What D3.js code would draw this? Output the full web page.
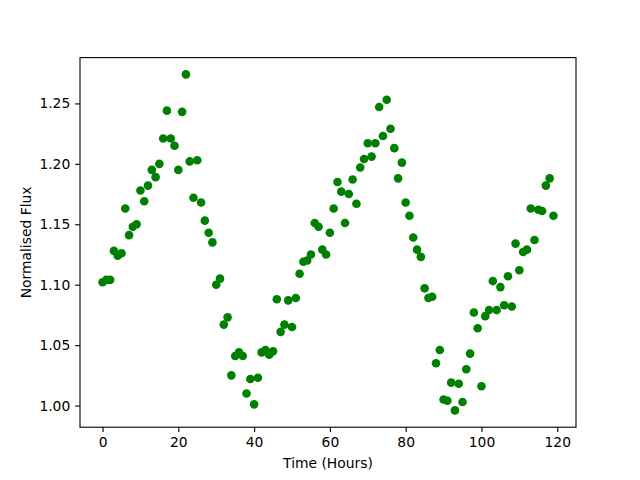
<!DOCTYPE html>
<html>
<head>
<meta charset="utf-8">
<script src="https://cdn.jsdelivr.net/npm/d3@7"></script>
<style>
  body { margin: 0; background: #fff; }
  text { font-family: "DejaVu Sans", sans-serif; }
</style>
</head>
<body>
<div id="chart"></div>
<script>
// observation times (hours)
const hours = [
  0, 1, 2, 3, 4, 5, 6, 7, 8, 9, 10, 11, 12, 13, 14, 15, 16, 17, 18, 19,
  20, 21, 22, 23, 24, 25, 26, 27, 28, 29, 30, 31, 32, 33, 34, 35, 36, 37, 38, 39,
  40, 41, 42, 43, 44, 45, 46, 47, 48, 49, 50, 51, 52, 53, 54, 55, 56, 57, 58, 59,
  60, 61, 62, 63, 64, 65, 66, 67, 68, 69, 70, 71, 72, 73, 74, 75, 76, 77, 78, 79,
  80, 81, 82, 83, 84, 85, 86, 87, 88, 89, 90, 91, 92, 93, 94, 95, 96, 97, 98, 99,
  100, 101, 102, 103, 104, 105, 106, 107, 108, 109, 110, 111, 112, 113, 114, 115, 116, 117, 118, 119
];

// normalised flux
const flux = [
  1.102, 1.104, 1.104, 1.128, 1.124, 1.126, 1.163, 1.141, 1.148, 1.150,
  1.178, 1.169, 1.182, 1.195, 1.189, 1.200, 1.221, 1.244, 1.221, 1.215,
  1.195, 1.243, 1.274, 1.202, 1.172, 1.203, 1.168, 1.153, 1.143, 1.135,
  1.100, 1.105, 1.067, 1.073, 1.025, 1.041, 1.044, 1.041, 1.010, 1.022,
  1.001, 1.023, 1.044, 1.046, 1.042, 1.045, 1.088, 1.061, 1.067, 1.087,
  1.065, 1.089, 1.109, 1.119, 1.120, 1.125, 1.151, 1.148, 1.129, 1.125,
  1.143, 1.163, 1.185, 1.177, 1.151, 1.175, 1.187, 1.167, 1.197, 1.204,
  1.217, 1.206, 1.217, 1.247, 1.223, 1.253, 1.229, 1.213, 1.188, 1.201,
  1.168, 1.157, 1.139, 1.129, 1.123, 1.097, 1.089, 1.090, 1.035, 1.046,
  1.005, 1.004, 1.019, 0.996, 1.018, 1.003, 1.030, 1.043, 1.077, 1.064,
  1.016, 1.074, 1.079, 1.103, 1.079, 1.098, 1.083, 1.107, 1.082, 1.134,
  1.112, 1.127, 1.129, 1.163, 1.137, 1.162, 1.161, 1.182, 1.188, 1.157
];

const xTicks = [0, 20, 40, 60, 80, 100, 120];
const yTicks = [1.00, 1.05, 1.10, 1.15, 1.20, 1.25];

let width = 640;
let height = 480;
let margin = { left: 80, right: 64, top: 57.6, bottom: 52.8 };
let pt = 100 / 72;

let svg = d3.select('#chart')
  .append('svg')
  .attr('width', width)
  .attr('height', height);

// matplotlib-style 5% padding around the data
function padded(ext) {
  let d = (ext[1] - ext[0]) * 0.05;
  return [ext[0] - d, ext[1] + d];
}

let x = d3.scaleLinear()
  .domain(padded(d3.extent(hours)))
  .range([margin.left, width - margin.right]);

let y = d3.scaleLinear()
  .domain(padded(d3.extent(flux)))
  .range([height - margin.bottom, margin.top]);

let xAxis = svg.append('g')
  .attr('transform', 'translate(0,' + (height - margin.bottom) + ')')
  .call(d3.axisBottom(x)
    .tickValues(xTicks)
    .tickFormat(d3.format('d'))
    .tickSize(3.5 * pt)
    .tickPadding(3.5 * pt));

let yAxis = svg.append('g')
  .attr('transform', 'translate(' + margin.left + ',0)')
  .call(d3.axisLeft(y)
    .tickValues(yTicks)
    .tickFormat(d3.format('.2f'))
    .tickSize(3.5 * pt)
    .tickPadding(3.5 * pt));

[xAxis, yAxis].forEach(function (g) {
  g.select('.domain').remove();
  g.selectAll('line').attr('stroke', '#000').attr('stroke-width', 0.8 * pt);
  g.selectAll('text')
    .attr('fill', '#000')
    .style('font-size', (10 * pt) + 'px')
    .style('font-family', '"DejaVu Sans", sans-serif');
});

// points
svg.append('g')
  .selectAll('circle')
  .data(hours)
  .enter()
  .append('circle')
  .attr('cx', function (d) { return x(d); })
  .attr('cy', function (d, i) { return y(flux[i]); })
  .attr('r', 4.3)
  .style('fill', 'green');

// frame
svg.append('rect')
  .attr('x', margin.left)
  .attr('y', margin.top)
  .attr('width', width - margin.left - margin.right)
  .attr('height', height - margin.top - margin.bottom)
  .attr('fill', 'none')
  .attr('stroke', '#000')
  .attr('stroke-width', 0.8 * pt);

svg.append('text')
  .attr('x', (margin.left + width - margin.right) / 2)
  .attr('y', 468)
  .attr('text-anchor', 'middle')
  .style('font-size', (10 * pt) + 'px')
  .text('Time (Hours)');

svg.append('text')
  .attr('transform', 'translate(31,' + ((margin.top + height - margin.bottom) / 2) + ') rotate(-90)')
  .attr('text-anchor', 'middle')
  .style('font-size', (10 * pt) + 'px')
  .text('Normalised Flux');
</script>
</body>
</html>
